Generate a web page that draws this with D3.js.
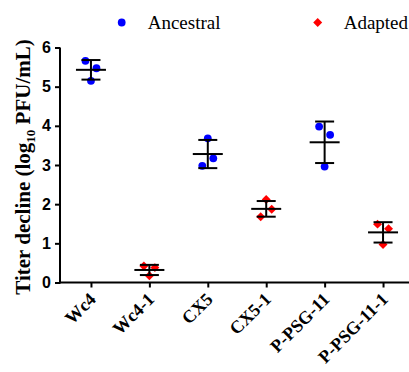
<!DOCTYPE html>
<html><head><meta charset="utf-8">
<script src="https://cdn.jsdelivr.net/npm/d3@7"></script>
<style>body{margin:0;background:#fff}svg{display:block}</style>
</head><body>
<svg id="c" width="409" height="372"></svg>
<script>
const categories = ["Wc4","Wc4-1","CX5","CX5-1","P-PSG-11","P-PSG-11-1"];
const groups = ["Ancestral","Adapted","Ancestral","Adapted","Ancestral","Adapted"];
const replicates = [
  [5.66, 5.47, 5.15],
  [0.42, 0.38, 0.17],
  [2.98, 3.17, 3.68],
  [1.68, 2.12, 1.87],
  [3.98, 3.77, 2.96],
  [1.49, 1.37, 0.97]
];
const means = [5.43, 0.32, 3.28, 1.88, 3.58, 1.28];
const sds   = [0.25, 0.13, 0.36, 0.20, 0.53, 0.26];
const jitter = [[-1,1,0],[-1,1,0],[-1,1,0],[-1,0,1],[-1,1,0],[-1,1,0]];
const yTicks = [0,1,2,3,4,5,6];
const legendItems = ["Ancestral","Adapted"];
const colors = {Ancestral:"#0000ff", Adapted:"#ff0000"};

const svg = d3.select("#c");
const x = d3.scalePoint().domain(categories).range([60,414]).padding(0.53);
const y = d3.scaleLinear().domain([0,6]).range([282.5,47.5]);
const serif = "'Liberation Serif','Times New Roman',serif";

// y axis
const ya = svg.append("g").attr("transform","translate(60,0)")
  .call(d3.axisLeft(y).tickValues(yTicks).tickSize(5).tickPadding(4).tickFormat(d3.format("d")));
ya.select(".domain").attr("stroke","#000").attr("stroke-width",2).attr("d","M0,"+y(6)+"V"+(y(0)+1));
ya.selectAll(".tick line").attr("stroke","#000").attr("stroke-width",2);
ya.selectAll(".tick text").attr("font-family","Arial, 'Liberation Sans', sans-serif").attr("font-weight","bold").attr("font-size",16).attr("fill","#000");

// x axis
const xa = svg.append("g").attr("transform","translate(0,"+y(0)+")")
  .call(d3.axisBottom(x).tickSize(5).tickFormat(""));
xa.select(".domain").attr("stroke","#000").attr("stroke-width",2).attr("d","M59,0H409");
xa.selectAll(".tick line").attr("stroke","#000").attr("stroke-width",2);
svg.append("g").selectAll("text").data(categories).join("text")
  .attr("transform",d=>"translate("+(x(d)+6)+","+(y(0)+18)+") rotate(-45)")
  .attr("text-anchor","end")
  .attr("font-family",serif)
  .attr("font-weight","bold").attr("font-size",18).attr("fill","#000")
  .text(d=>d);

// y title
const yt = svg.append("text")
  .attr("transform","translate(30,167) rotate(-90)")
  .attr("text-anchor","middle")
  .attr("font-family",serif)
  .attr("font-weight","bold").attr("font-size",21).attr("fill","#000");
yt.append("tspan").text("Titer decline (log");
yt.append("tspan").attr("font-size",13).attr("dy",5).text("10");
yt.append("tspan").attr("dy",-5).text(" PFU/mL)");

// points
const diamondPath = d3.symbol().type(d3.symbolSquare).size(40)();
categories.forEach((c,i)=>{
  const g = svg.append("g");
  replicates[i].forEach((v,j)=>{
    const px = x(c) + jitter[i][j]*5.5, py = y(v);
    if(groups[i]==="Ancestral"){
      g.append("circle").attr("cx",px).attr("cy",py).attr("r",3.9).attr("fill",colors.Ancestral);
    } else {
      g.append("path").attr("d",diamondPath)
        .attr("transform","translate("+px+","+py+") rotate(45)").attr("fill",colors.Adapted);
    }
  });
  const cx = x(c);
  g.append("line").attr("x1",cx).attr("x2",cx).attr("y1",y(means[i]+sds[i])).attr("y2",y(means[i]-sds[i]))
    .attr("stroke","#000").attr("stroke-width",2);
  [means[i]+sds[i], means[i]-sds[i]].forEach(v=>{
    g.append("line").attr("x1",cx-9.5).attr("x2",cx+9.5).attr("y1",y(v)).attr("y2",y(v)).attr("stroke","#000").attr("stroke-width",2);
  });
  g.append("line").attr("x1",cx-15).attr("x2",cx+15).attr("y1",y(means[i])).attr("y2",y(means[i])).attr("stroke","#000").attr("stroke-width",2);
});

// legend
const legX = [121.7, 317.7];
legendItems.forEach((k,i)=>{
  if(k==="Ancestral") svg.append("circle").attr("cx",legX[i]).attr("cy",22.5).attr("r",3.9).attr("fill",colors[k]);
  else svg.append("path").attr("d",diamondPath)
        .attr("transform","translate("+legX[i]+",22.5) rotate(45)").attr("fill",colors[k]);
  svg.append("text").attr("x",legX[i]+26).attr("y",28.5)
    .attr("font-family",serif).attr("font-size",19).attr("fill","#000").text(k);
});
</script>
</body></html>
